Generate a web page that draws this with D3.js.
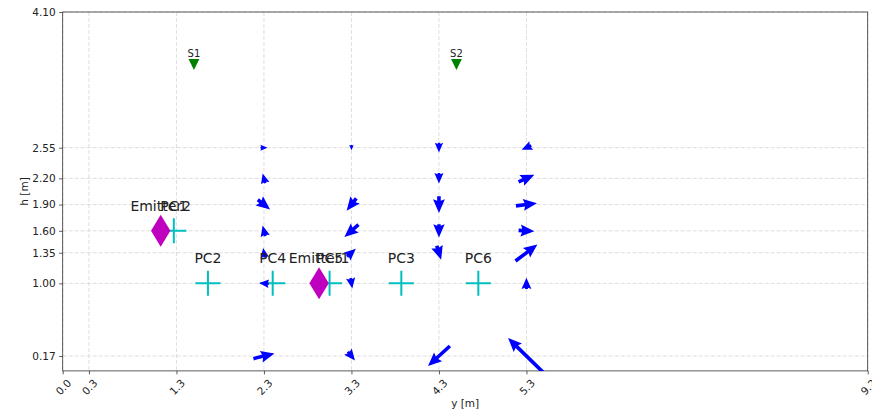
<!DOCTYPE html>
<html>
<head>
<meta charset="utf-8">
<script src="https://cdn.jsdelivr.net/npm/d3@7"></script>
<style>
  html, body { margin: 0; padding: 0; background: #fff; }
  svg { display: block; font-family: "DejaVu Sans", sans-serif; }
</style>
</head>
<body>
<svg id="chart" width="872" height="411"></svg>
<script>
// Axis ticks
const xTicks = [0.0, 0.3, 1.3, 2.3, 3.3, 4.3, 5.3, 9.2];
const yTicks = [0.17, 1.00, 1.35, 1.60, 1.90, 2.20, 2.55, 4.10];

// Flow field sampling grid: columns (y [m]) and heights (h [m])
const fieldCols = [2.3, 3.3, 4.3, 5.3];
const fieldRows = [2.55, 2.20, 1.90, 1.60, 1.35, 1.00, 0.17];

// Horizontal (u) and vertical (v) components per column, ordered as fieldRows
const u23 = [0.08, -0.03, 0.14, -0.03, -0.02, -0.11, 0.24];
const v23 = [0.00, 0.11, -0.11, 0.12, 0.11, 0.01, 0.06];
const u33 = [0.00, 0.00, -0.11, -0.16, 0.10, 0.02, 0.08];
const v33 = [-0.06, 0.00, -0.14, -0.14, 0.09, -0.12, -0.10];
const u43 = [0.00, 0.00, 0.00, 0.00, 0.05, 0.00, -0.25];
const v43 = [-0.11, -0.12, -0.19, -0.15, -0.16, 0.00, -0.23];
const u53 = [-0.11, 0.18, 0.24, 0.18, 0.25, 0.00, -0.42];
const v53 = [-0.05, 0.08, 0.03, -0.01, 0.19, 0.13, 0.41];

// Emitters
const emitterNames = ["Emitter1", "Emitter2"];
const emitterY = [2.93, 1.12];
const emitterH = [1.00, 1.60];

// Particle counters
const pcNames = ["PC1", "PC2", "PC3", "PC4", "PC5", "PC6"];
const pcY = [1.27, 1.66, 3.87, 2.40, 3.05, 4.75];
const pcH = [1.60, 1.00, 1.00, 1.00, 1.00, 1.00];

// Sensors
const sensorNames = ["S1", "S2"];
const sensorY = [1.5, 4.5];
const sensorH = [3.5, 3.5];

const svg = d3.select("#chart");
const margin = { left: 62.7, top: 12, right: 872 - 867.7, bottom: 411 - 370.9 };
const W = 872 - margin.left - margin.right;
const H = 411 - margin.top - margin.bottom;

const x = d3.scaleLinear().domain([0, 9.2]).range([margin.left, margin.left + W]);
const y = d3.scaleLinear().domain([0, 4.1]).range([margin.top + H, margin.top]);

svg.append("defs").append("clipPath").attr("id", "plotClip")
  .append("rect").attr("x", margin.left).attr("y", margin.top)
  .attr("width", W).attr("height", H);

// Grid
const grid = svg.append("g").attr("stroke", "#d6d6d6").attr("stroke-width", 0.8)
  .attr("stroke-dasharray", "4,2");
grid.selectAll("line.gx").data(xTicks).join("line").attr("class", "gx")
  .attr("x1", d => x(d)).attr("x2", d => x(d))
  .attr("y1", margin.top).attr("y2", margin.top + H);
grid.selectAll("line.gy").data(yTicks).join("line").attr("class", "gy")
  .attr("y1", d => y(d)).attr("y2", d => y(d))
  .attr("x1", margin.left).attr("x2", margin.left + W);

// Axes
const xAxis = svg.append("g").attr("transform", `translate(0,${margin.top + H})`)
  .call(d3.axisBottom(x).tickValues(xTicks).tickFormat(d3.format(".1f"))
    .tickSize(3.5).tickSizeOuter(0).tickPadding(3.5));
xAxis.selectAll("text")
  .attr("font-size", 10.5).attr("fill", "#222")
  .attr("text-anchor", "middle").attr("dy", null).attr("y", null)
  .attr("dominant-baseline", "central")
  .attr("transform", "translate(0,16) rotate(-45)");

const yAxis = svg.append("g").attr("transform", `translate(${margin.left},0)`)
  .call(d3.axisLeft(y).tickValues(yTicks).tickFormat(d3.format(".2f"))
    .tickSize(3.5).tickSizeOuter(0).tickPadding(3.5));
yAxis.selectAll("text").attr("font-size", 10.5).attr("fill", "#222");
[xAxis, yAxis].forEach(a => {
  a.select(".domain").remove();
  a.selectAll(".tick line").attr("stroke", "#333").attr("stroke-width", 0.8);
  a.attr("font-family", "DejaVu Sans, sans-serif");
});

// Frame
svg.append("rect").attr("x", margin.left).attr("y", margin.top)
  .attr("width", W).attr("height", H)
  .attr("fill", "none").attr("stroke", "#333").attr("stroke-width", 0.8);

// Axis labels
svg.append("text").attr("x", margin.left + W / 2).attr("y", 407)
  .attr("text-anchor", "middle").attr("font-size", 10.5).attr("fill", "#222").text("y [m]");
svg.append("text")
  .attr("transform", `translate(28,${margin.top + H / 2}) rotate(-90)`)
  .attr("text-anchor", "middle").attr("font-size", 10.5).attr("fill", "#222").text("h [m]");

const plot = svg.append("g").attr("clip-path", "url(#plotClip)");

// Particle counters (crosses)
const pcs = pcNames.map((n, i) => ({ name: n, y: pcY[i], h: pcH[i] }));
const crossHalf = 12.5;
plot.selectAll("path.pc").data(pcs).join("path").attr("class", "pc")
  .attr("d", d => {
    const cx = x(d.y), cy = y(d.h);
    return `M${cx - crossHalf},${cy}H${cx + crossHalf}M${cx},${cy - crossHalf}V${cy + crossHalf}`;
  })
  .attr("stroke", "#00bfbf").attr("stroke-width", 2).attr("fill", "none");

// Emitters (thin diamonds)
const emitters = emitterNames.map((n, i) => ({ name: n, y: emitterY[i], h: emitterH[i] }));
plot.selectAll("path.em").data(emitters).join("path").attr("class", "em")
  .attr("d", d => {
    const cx = x(d.y), cy = y(d.h), hw = 9.7, hh = 16;
    return `M${cx},${cy - hh}L${cx + hw},${cy}L${cx},${cy + hh}L${cx - hw},${cy}Z`;
  })
  .attr("fill", "#bf00bf");

// Sensors (down triangles)
const sensors = sensorNames.map((n, i) => ({ name: n, y: sensorY[i], h: sensorH[i] }));
plot.selectAll("path.sn").data(sensors).join("path").attr("class", "sn")
  .attr("d", d => {
    const cx = x(d.y), cy = y(d.h), s = 5.4;
    return `M${cx - s},${cy - s}L${cx + s},${cy - s}L${cx},${cy + s}Z`;
  })
  .attr("fill", "#008000");

// Flow arrows, centred on their grid point
const comps = [[u23, v23], [u33, v33], [u43, v43], [u53, v53]];
const arrows = [];
fieldCols.forEach((c, ci) => {
  fieldRows.forEach((r, ri) => {
    arrows.push({ c, r, u: comps[ci][0][ri], v: comps[ci][1][ri] });
  });
});

const shaftW = 3.6, headW = 3.3 * shaftW, headL = 3.8 * shaftW, headAx = 3.4 * shaftW;
function arrowPath(d) {
  const x0 = x(d.c - d.u / 2), y0 = y(d.r - d.v / 2);
  const x1 = x(d.c + d.u / 2), y1 = y(d.r + d.v / 2);
  const dx = x1 - x0, dy = y1 - y0;
  const L = Math.hypot(dx, dy);
  if (L < 1) return null;
  const k = L < headL ? L / headL : 1;
  const len = L / k;
  const sw = shaftW / 2, hw = headW / 2;
  const pts = [[0, -sw], [len - headAx, -sw], [len - headL, -hw], [len, 0],
               [len - headL, hw], [len - headAx, sw], [0, sw]];
  const ux = dx / L, uy = dy / L;
  return "M" + pts.map(([a, b]) => {
    const px = x0 + k * (a * ux - b * uy);
    const py = y0 + k * (a * uy + b * ux);
    return `${px.toFixed(2)},${py.toFixed(2)}`;
  }).join("L") + "Z";
}
plot.selectAll("path.arrow").data(arrows.filter(d => arrowPath(d))).join("path")
  .attr("class", "arrow").attr("d", arrowPath).attr("fill", "#0000ff");

// Labels
const labelG = svg.append("g").attr("fill", "#222").attr("text-anchor", "middle");
labelG.selectAll("text.el").data(emitters).join("text").attr("class", "el")
  .attr("x", d => x(d.y)).attr("y", d => y(d.h) - 20)
  .attr("font-size", 14).text(d => d.name);
labelG.selectAll("text.pl").data(pcs).join("text").attr("class", "pl")
  .attr("x", d => x(d.y)).attr("y", d => y(d.h) - 20)
  .attr("font-size", 14).text(d => d.name);
labelG.selectAll("text.sl").data(sensors).join("text").attr("class", "sl")
  .attr("x", d => x(d.y)).attr("y", d => y(d.h) - 7.3)
  .attr("font-size", 10).text(d => d.name);
</script>
</body>
</html>
